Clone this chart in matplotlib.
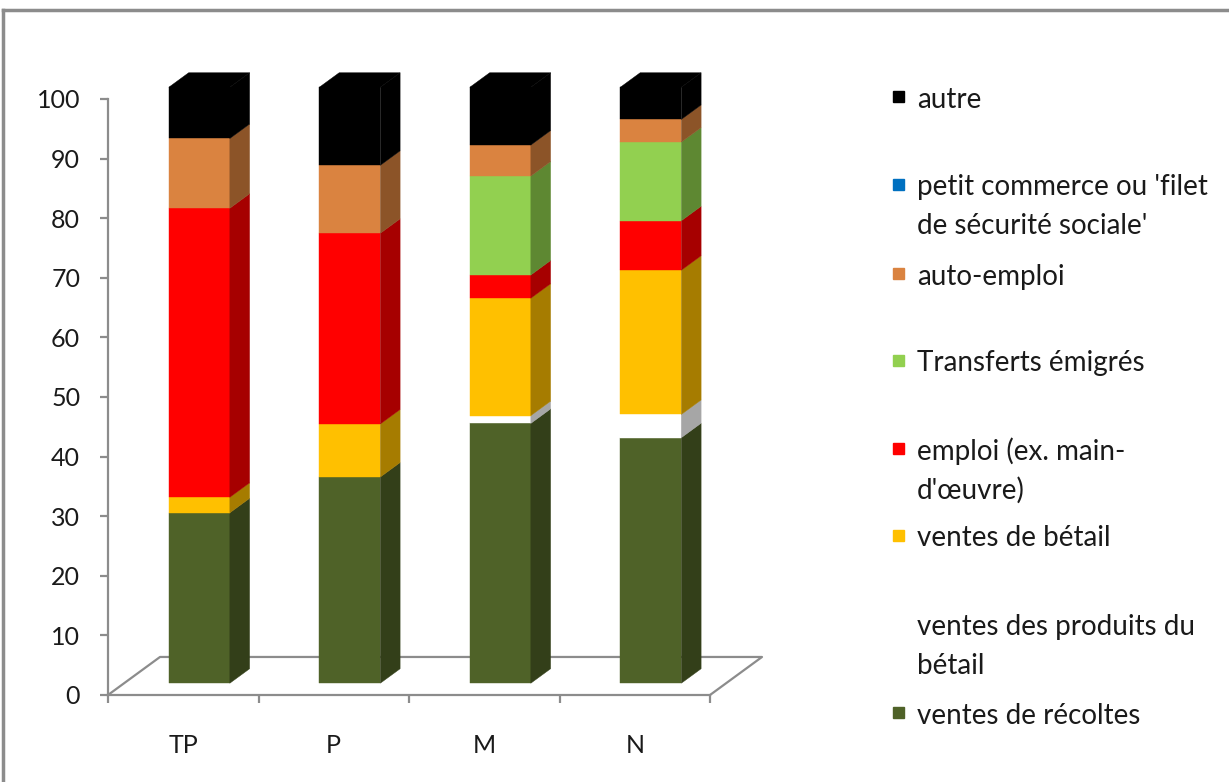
import matplotlib
matplotlib.use("Agg")
import matplotlib.pyplot as plt
from matplotlib.patches import Rectangle
from matplotlib.lines import Line2D

plt.rcParams['font.family'] = ['Lato', 'DejaVu Sans']

# --- data: income shares (%) by group ---
groups = ['TP', 'P', 'M', 'N']
recoltes = [28.6, 34.6, 43.6, 41.2]
produits_betail = [0.0, 0.0, 1.3, 3.9]
betail = [2.6, 8.9, 19.7, 24.2]
emploi = [48.5, 32.0, 3.9, 8.3]
transferts = [0.0, 0.0, 16.6, 13.2]
petit_commerce = [0.0, 0.0, 0.0, 0.0]
auto_emploi = [11.7, 11.4, 5.2, 3.8]
autre = [8.6, 13.1, 9.7, 5.4]

# stacking order, bottom to top
series = [recoltes, produits_betail, betail, emploi, transferts,
          petit_commerce, auto_emploi, autre]
labels = ['ventes de récoltes', 'ventes des produits du\nbétail',
          'ventes de bétail', "emploi (ex. main-\nd'œuvre)",
          'Transferts émigrés', "petit commerce ou 'filet\nde sécurité sociale'",
          'auto-emploi', 'autre']
front_cols = ['#4F6228', '#FFFFFF', '#FFC000', '#FF0000', '#92D050',
              '#0070C0', '#DA8340', '#000000']
side_cols = ['#333F19', '#A6A6A6', '#A67C00', '#A60000', '#5E8832',
             '#004A80', '#8C5428', '#000000']
legend_y = [713, 625, 536, 449, 361, 185, 274, 97]  # first line, pixels from top

W, H = 1229, 782
fig = plt.figure(figsize=(W / 100, H / 100), dpi=100)
ax = fig.add_axes([108 / W, (H - 695) / H, 602 / W, 596 / H])
ax.set_xlim(-0.5, 3.5)
ax.set_ylim(0, 100)

# oblique depth of the floor, in data units
DX, DY = 0.3455, 6.38
d0, d1 = 0.31, 0.69
bw = 0.405
sdx, sdy = (d1 - d0) * DX, (d1 - d0) * DY
ox, oy = d0 * DX, d0 * DY

grey = '#8C8C8C'
floor_x = [-0.5, 3.5, 3.5 + DX, -0.5 + DX]
floor_y = [0, 0, DY, DY]
ax.plot(floor_x[1:] + [floor_x[0]], floor_y[1:] + [floor_y[0]], color=grey,
        lw=1.6, clip_on=False, zorder=1)

for i, g in enumerate(groups):
    x0 = i - bw / 2 + ox
    bottom = 0.0
    vals = [s[i] for s in series]
    last = max(k for k, v in enumerate(vals) if v > 0)
    for k, v in enumerate(vals):
        if v <= 0:
            continue
        ax.bar(x0, v, bw, bottom=bottom + oy, align='edge', color=front_cols[k],
               edgecolor=front_cols[k], lw=0.3, clip_on=False, zorder=3)
        xr = x0 + bw
        ax.fill([xr, xr + sdx, xr + sdx, xr],
                [bottom + oy, bottom + oy + sdy, bottom + v + oy + sdy, bottom + v + oy],
                color=side_cols[k], lw=0.3, clip_on=False, zorder=3)
        top = bottom + v
        if k == last:
            ax.fill([x0, x0 + sdx, xr + sdx, xr],
                    [top + oy, top + oy + sdy, top + oy + sdy, top + oy],
                    color=front_cols[k], lw=0.3, clip_on=False, zorder=3)
        bottom = top

for s in ['top', 'right']:
    ax.spines[s].set_visible(False)
for s in ['left', 'bottom']:
    ax.spines[s].set_color(grey)
    ax.spines[s].set_linewidth(1.6)

txt = '#1A1A1A'
ax.set_yticks(range(0, 101, 10))
ax.tick_params(axis='y', direction='out', length=6, width=1.6, color=grey,
               labelsize=18, labelcolor=txt, pad=14)
ax.set_xticks([-0.5, 0.5, 1.5, 2.5, 3.5])
ax.set_xticklabels([])
ax.set_xticks(range(len(groups)), minor=True)
ax.set_xticklabels(groups, minor=True)
ax.tick_params(axis='x', which='major', direction='out', length=6, width=1.6,
               color=grey)
ax.tick_params(axis='x', which='minor', length=0, labelsize=18,
               labelcolor=txt, pad=28)

# legend, drawn entry by entry
line_gap = 39
for k in range(len(series)):
    y0 = legend_y[k]
    if front_cols[k] != '#FFFFFF':
        fig.patches.append(Rectangle((893 / W, (H - y0 - 5) / H), 11 / W, 11 / H,
                                     transform=fig.transFigure,
                                     color=front_cols[k]))
    for j, line in enumerate(labels[k].split('\n')):
        fig.text(917 / W, (H - y0 - j * line_gap) / H, line, fontsize=20,
                 color=txt, va='center_baseline', ha='left')

# chart frame
fig.add_artist(Line2D([3 / W, 1], [(H - 10) / H] * 2, color='#8C8C8C', lw=2.5))
fig.add_artist(Line2D([3 / W] * 2, [0, (H - 10) / H], color='#8C8C8C', lw=2.5))

fig.savefig('out.png', dpi=100)
